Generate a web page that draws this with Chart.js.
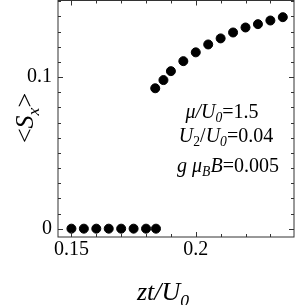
<!DOCTYPE html>
<html>
<head>
<meta charset="utf-8">
<script src="https://cdn.jsdelivr.net/npm/chart.js@4.4.1/dist/chart.umd.min.js"></script>
<style>
  html, body { margin: 0; padding: 0; background: #fff; }
  #wrap { width: 296px; height: 305px; }
</style>
</head>
<body>
<div id="wrap"><canvas id="myChart" width="296" height="305"></canvas></div>
<script>
// values
const lowX = [0.15, 0.155, 0.16, 0.165, 0.17, 0.175, 0.18, 0.184];
const lowSx = [0, 0, 0, 0, 0, 0, 0, 0];
const highX = [0.1837, 0.187, 0.19, 0.195, 0.2, 0.205, 0.21, 0.215, 0.22, 0.225, 0.23, 0.235];
const highSx = [0.0926, 0.098, 0.1039, 0.1105, 0.1163, 0.1215, 0.1255, 0.1294, 0.1327, 0.1349, 0.1373, 0.1395];

const xTicks = [0.15, 0.16, 0.17, 0.18, 0.19, 0.2, 0.21, 0.22, 0.23];
const xTickLabels = {"0.15": "0.15", "0.2": "0.2"};
const yTicks = [0, 0.01, 0.02, 0.03, 0.04, 0.05, 0.06, 0.07, 0.08, 0.09, 0.1, 0.11, 0.12, 0.13, 0.14, 0.15];
const yTickLabels = {"0": "0", "0.1": "0.1"};

const SERIF = "'Liberation Serif', 'Times New Roman', serif";

function toPoints(xs, ys){
    const pts = [];
    xs.forEach((x, i) => {
        pts.push({x: x, y: ys[i]});
    });
    return pts;
}

// text with italic / subscript pieces
function richWidth(ctx, parts, size){
    let w = 0;
    parts.forEach(p => {
        const s = p.sub ? size * 0.68 : size;
        ctx.font = (p.it ? "italic " : "") + s + "px " + SERIF;
        w += ctx.measureText(p.t).width;
    });
    return w;
}
function drawRich(ctx, parts, x, y, size){
    let cx = x - richWidth(ctx, parts, size) / 2;
    parts.forEach(p => {
        const s = p.sub ? size * 0.68 : size;
        ctx.font = (p.it ? "italic " : "") + s + "px " + SERIF;
        ctx.fillText(p.t, cx, p.sub ? y + size * 0.22 : y);
        cx += ctx.measureText(p.t).width;
    });
}

const frame = {
    id: "frame",
    afterDraw(chart){
        const ctx = chart.ctx;
        const a = chart.chartArea;
        const xs = chart.scales.x, ys = chart.scales.y;
        ctx.save();
        ctx.strokeStyle = "#333";
        ctx.lineWidth = 1;
        ctx.strokeRect(a.left, a.top, a.right - a.left, a.bottom - a.top);
        // inward ticks on all sides
        ctx.beginPath();
        xTicks.forEach(v => {
            const px = Math.round(xs.getPixelForValue(v)) + 0.5;
            const len = xTickLabels[String(v)] ? 5 : 3;
            ctx.moveTo(px, a.bottom); ctx.lineTo(px, a.bottom - len);
            ctx.moveTo(px, a.top); ctx.lineTo(px, a.top + len);
        });
        yTicks.forEach(v => {
            const py = Math.round(ys.getPixelForValue(v)) + 0.5;
            const len = yTickLabels[String(v)] ? 5 : 3;
            ctx.moveTo(a.left, py); ctx.lineTo(a.left + len, py);
            ctx.moveTo(a.right, py); ctx.lineTo(a.right - len, py);
        });
        ctx.stroke();

        // tick labels
        ctx.fillStyle = "#000";
        ctx.font = "20px " + SERIF;
        ctx.textAlign = "center";
        ctx.textBaseline = "alphabetic";
        xTicks.forEach(v => {
            const lab = xTickLabels[String(v)];
            if (lab) ctx.fillText(lab, xs.getPixelForValue(v), a.bottom + 18);
        });
        ctx.textAlign = "right";
        ctx.textBaseline = "middle";
        yTicks.forEach(v => {
            const lab = yTickLabels[String(v)];
            if (lab) ctx.fillText(lab, a.left - 6, ys.getPixelForValue(v));
        });

        ctx.textBaseline = "alphabetic";
        ctx.textAlign = "left";
        // axis titles
        drawRich(ctx, [{t: "zt/U", it: true}, {t: "0", it: true, sub: true}], 163, 300, 26);
        ctx.save();
        ctx.translate(33, 118);
        ctx.rotate(-Math.PI / 2);
        drawRich(ctx, [{t: "<"}, {t: "S", it: true}, {t: "x", it: true, sub: true}, {t: ">"}], 0, 0, 26);
        ctx.restore();
        // parameters
        drawRich(ctx, [{t: "\u03bc/U", it: true}, {t: "0", it: true, sub: true}, {t: "=1.5"}], 222, 118, 20);
        drawRich(ctx, [{t: "U", it: true}, {t: "2", sub: true}, {t: "/"}, {t: "U", it: true}, {t: "0", it: true, sub: true}, {t: "=0.04"}], 226, 142, 20);
        drawRich(ctx, [{t: "g \u03bc", it: true}, {t: "B", it: true, sub: true}, {t: "B", it: true}, {t: "=0.005"}], 228, 172, 20);
        ctx.restore();
    }
};

new Chart("myChart", {
    type: "scatter",
    data: {
        datasets: [{
            data: toPoints(lowX, lowSx).concat(toPoints(highX, highSx)),
            backgroundColor: "#000",
            borderColor: "#000",
            pointRadius: 4.5,
            pointHoverRadius: 4.5
        }]
    },
    options: {
        responsive: false,
        animation: false,
        events: [],
        layout: {autoPadding: false, padding: {top: 0.5, right: 2, left: 0, bottom: 0}},
        plugins: {legend: {display: false}, tooltip: {enabled: false}},
        scales: {
            x: {
                type: "linear",
                min: 0.1446,
                max: 0.2395,
                grid: {display: false, drawTicks: false},
                border: {display: false},
                afterBuildTicks: (s) => { s.ticks = xTicks.map(v => ({value: v})); },
                afterFit: (s) => { s.height = 68; },
                ticks: {display: false}
            },
            y: {
                type: "linear",
                min: -0.0055,
                max: 0.1505,
                grid: {display: false, drawTicks: false},
                border: {display: false},
                afterBuildTicks: (s) => { s.ticks = yTicks.map(v => ({value: v})); },
                afterFit: (s) => { s.width = 58; },
                ticks: {display: false}
            }
        }
    },
    plugins: [frame]
});
</script>
</body>
</html>
